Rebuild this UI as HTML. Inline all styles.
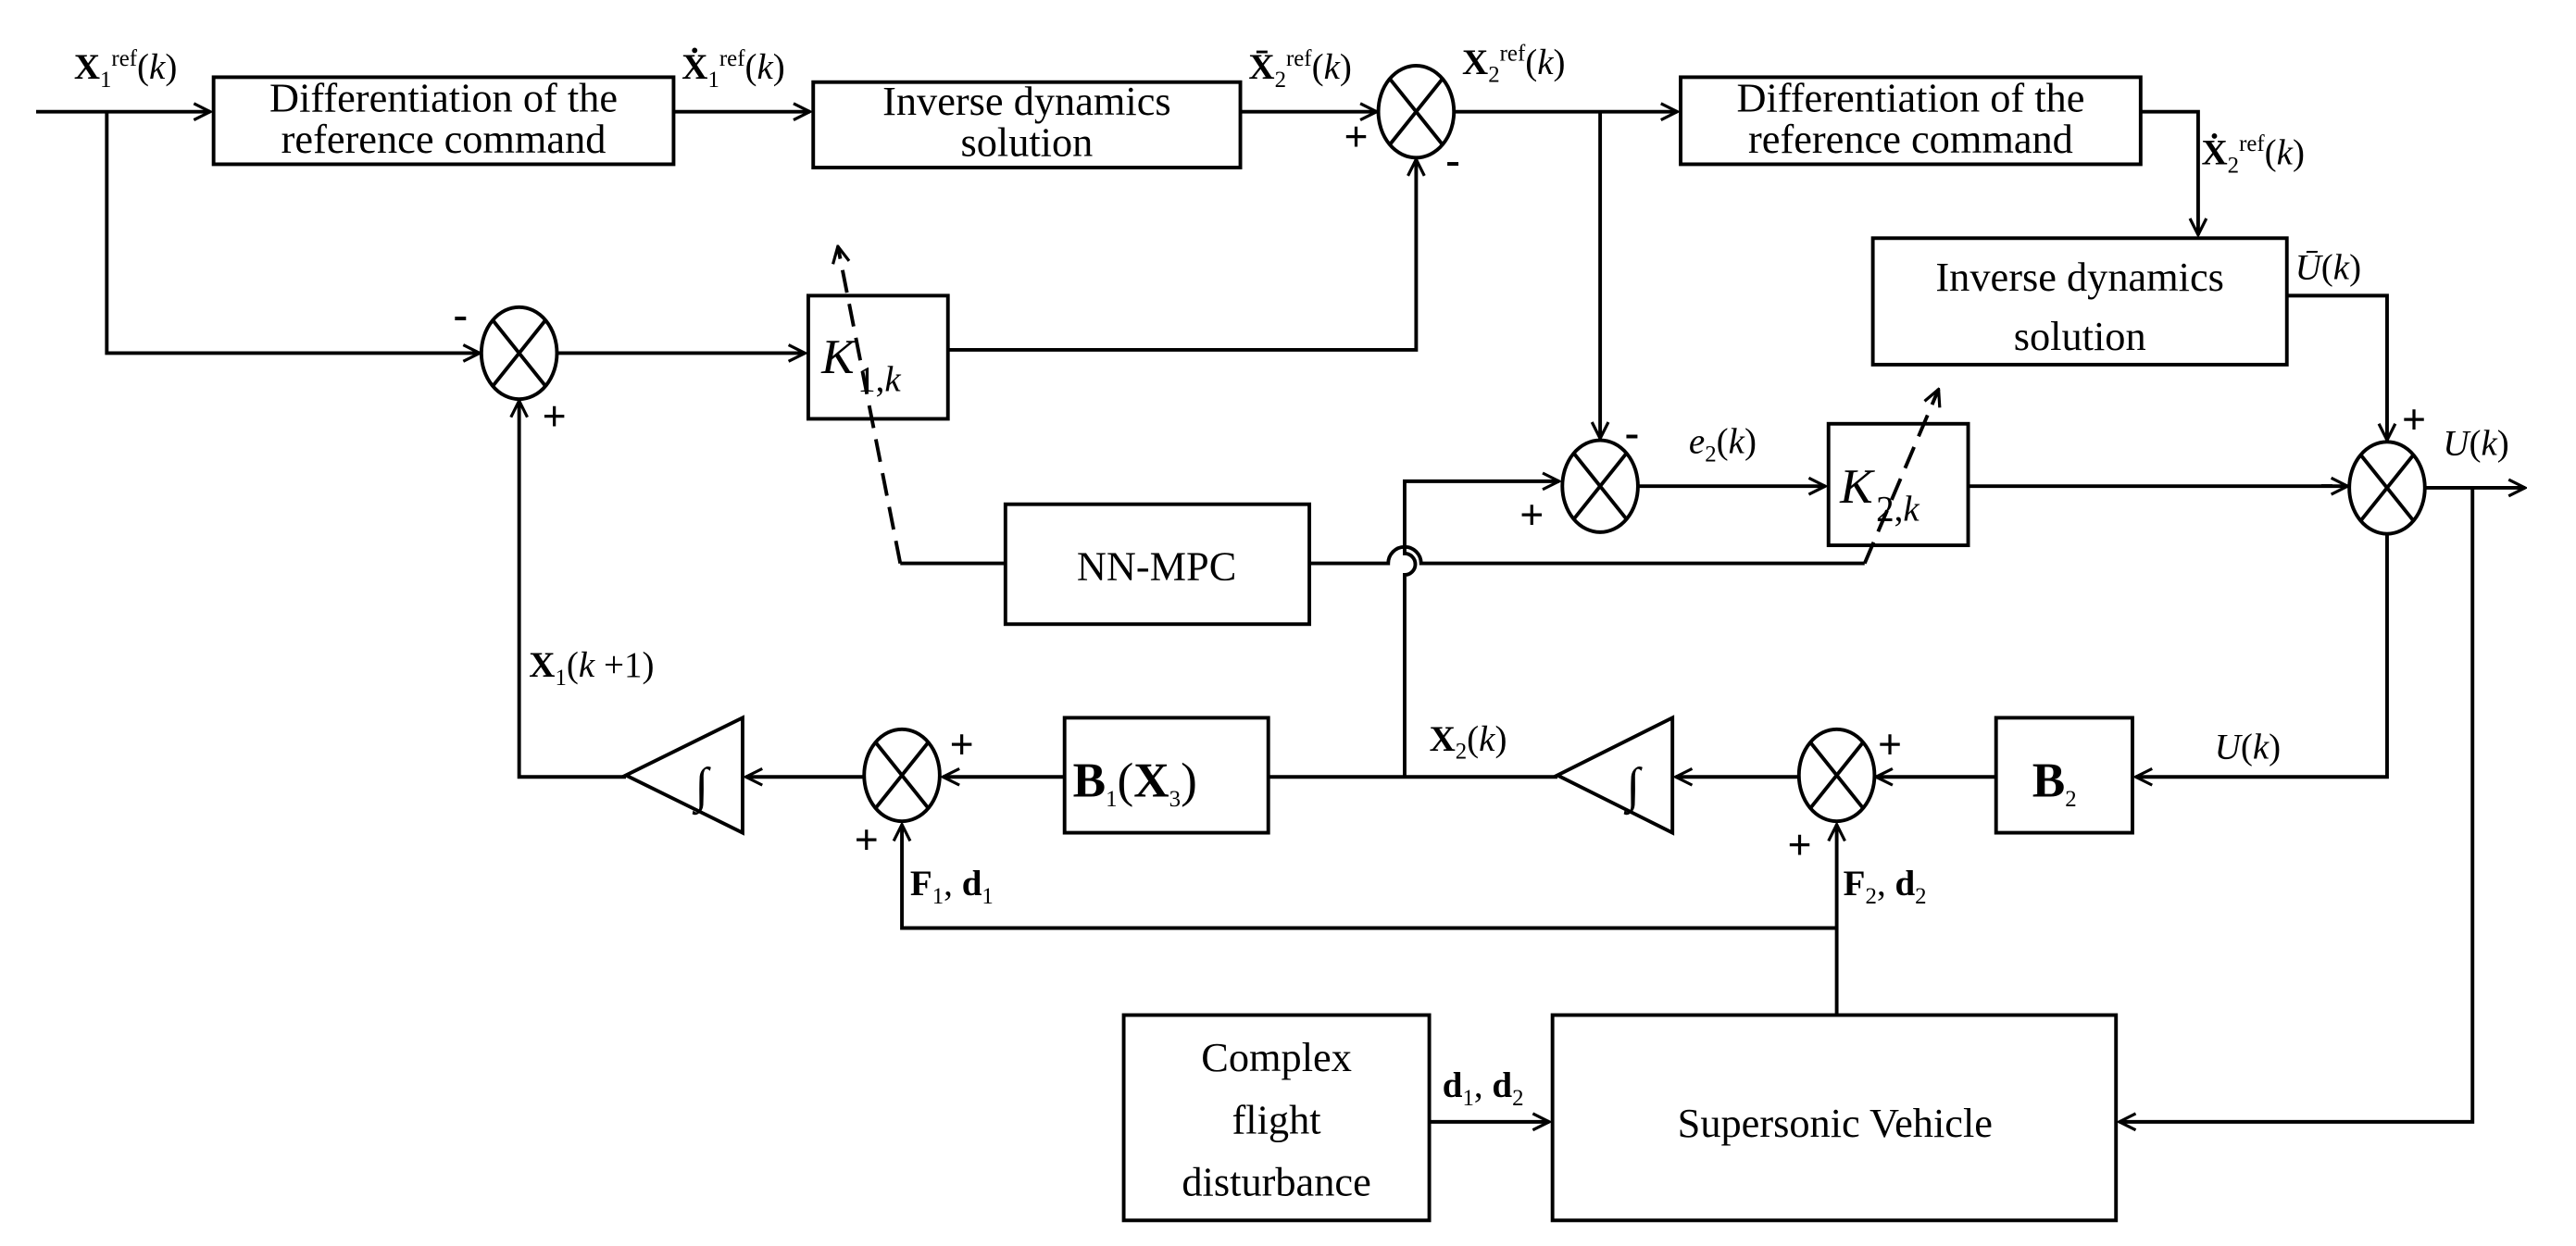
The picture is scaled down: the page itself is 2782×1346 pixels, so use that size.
<!DOCTYPE html>
<html><head><meta charset="utf-8"><style>
html,body{margin:0;padding:0;background:#fff;}
svg{display:block;}
text{font-family:"Liberation Serif",serif;fill:#000;}
.b{font-size:25px;}
.l{font-size:22px;}
.s{font-size:14px;}
</style></head><body>
<svg width="2782" height="1346" viewBox="0 0 1568 758.6" preserveAspectRatio="none" xmlns="http://www.w3.org/2000/svg">
<defs>
<marker id="a" viewBox="0 0 12 12" refX="11" refY="6" markerWidth="12" markerHeight="12" markerUnits="userSpaceOnUse" orient="auto">
<path d="M1,1 L11,6 L1,11" fill="none" stroke="#000" stroke-width="1.8"/>
</marker>
</defs>
<g fill="none" stroke="#000" stroke-width="2.2">
<rect x="130" y="47" width="280" height="53"/>
<rect x="495" y="50" width="260" height="52"/>
<rect x="1023" y="47" width="280" height="53"/>
<rect x="1140" y="145" width="252" height="77"/>
<rect x="492" y="180" width="85" height="75"/>
<rect x="1113" y="258" width="85" height="74"/>
<rect x="612" y="307" width="185" height="73"/>
<rect x="648" y="437" width="124" height="70"/>
<rect x="1215" y="437" width="83" height="70"/>
<rect x="684" y="618" width="186" height="125"/>
<rect x="945" y="618" width="343" height="125"/>
<path d="M452,437 L452,507 L381,472 Z"/>
<path d="M1018,437 L1018,507 L948,472 Z"/>
<g>
<ellipse cx="862" cy="68" rx="23" ry="28"/><path d="M846,48 L878,88 M878,48 L846,88"/>
<ellipse cx="316" cy="215" rx="23" ry="28"/><path d="M300,195 L332,235 M332,195 L300,235"/>
<ellipse cx="974" cy="296" rx="23" ry="28"/><path d="M958,276 L990,316 M990,276 L958,316"/>
<ellipse cx="1453" cy="297" rx="23" ry="28"/><path d="M1437,277 L1469,317 M1469,277 L1437,317"/>
<ellipse cx="549" cy="472" rx="23" ry="28"/><path d="M533,452 L565,492 M565,452 L533,492"/>
<ellipse cx="1118" cy="472" rx="23" ry="28"/><path d="M1102,452 L1134,492 M1134,452 L1102,492"/>
</g>
<path d="M22,68 L128,68" marker-end="url(#a)"/>
<path d="M410,68 L493,68" marker-end="url(#a)"/>
<path d="M755,68 L838,68" marker-end="url(#a)"/>
<path d="M885,68 L1021,68" marker-end="url(#a)"/>
<path d="M1303,68 L1338,68 L1338,143" marker-end="url(#a)"/>
<path d="M1392,180 L1453,180 L1453,268" marker-end="url(#a)"/>
<path d="M1476,297 L1537,297" marker-end="url(#a)"/>
<path d="M1505,297 L1505,683 L1290,683" marker-end="url(#a)"/>
<path d="M870,683 L943,683" marker-end="url(#a)"/>
<path d="M974,68 L974,267" marker-end="url(#a)"/>
<path d="M65,68 L65,215 L292,215" marker-end="url(#a)"/>
<path d="M339,215 L490,215" marker-end="url(#a)"/>
<path d="M577,213 L862,213 L862,97" marker-end="url(#a)"/>
<path d="M997,296 L1111,296" marker-end="url(#a)"/>
<path d="M1198,296 L1429,296" marker-end="url(#a)"/>
<path d="M1453,325 L1453,473 L1300,473" marker-end="url(#a)"/>
<path d="M1215,473 L1142,473" marker-end="url(#a)"/>
<path d="M1095,473 L1020,473" marker-end="url(#a)"/>
<path d="M948,473 L772,473"/>
<path d="M648,473 L574,473" marker-end="url(#a)"/>
<path d="M526,473 L454,473" marker-end="url(#a)"/>
<path d="M381,473 L316,473 L316,244" marker-end="url(#a)"/>
<path d="M855,473 L855,350 A6,6 0 0 0 855,337 L855,293 L949,293" marker-end="url(#a)"/>
<path d="M1118,618 L1118,502" marker-end="url(#a)"/>
<path d="M1118,565 L549,565 L549,502" marker-end="url(#a)"/>
<path d="M612,343 L548,343"/>
<path d="M797,343 L845,343 A10,10 0 0 1 865,343 L1135,343"/>
<path d="M548,343 L510,150" stroke-dasharray="14,7" marker-end="url(#a)"/>
<path d="M1135,343 L1180,237" stroke-dasharray="14,7" marker-end="url(#a)"/>
</g>
<g class="b" text-anchor="middle">
<text x="270" y="68">Differentiation of the</text>
<text x="270" y="93">reference command</text>
<text x="625" y="70">Inverse dynamics</text>
<text x="625" y="95">solution</text>
<text x="1163" y="68">Differentiation of the</text>
<text x="1163" y="93">reference command</text>
<text x="1266" y="177">Inverse dynamics</text>
<text x="1266" y="213">solution</text>
<text x="704" y="353">NN-MPC</text>
<text x="777" y="652">Complex</text>
<text x="777" y="690">flight</text>
<text x="777" y="728">disturbance</text>
<text x="1117" y="692">Supersonic Vehicle</text>
</g>
<text x="500" y="227" style="font-size:30px;font-style:italic">K</text>
<text x="522" y="238" class="l"><tspan>1,</tspan><tspan font-style="italic">k</tspan></text>
<text x="1120" y="306" style="font-size:30px;font-style:italic">K</text>
<text x="1142" y="317" class="l"><tspan>2,</tspan><tspan font-style="italic">k</tspan></text>
<text x="653" y="485" style="font-size:30px;font-weight:bold">B<tspan class="s" font-weight="normal" dy="6">1</tspan><tspan dy="-6" font-weight="normal">(</tspan>X<tspan class="s" font-weight="normal" dy="6">3</tspan><tspan dy="-6" font-weight="normal">)</tspan></text>
<text x="1237" y="485" style="font-size:30px;font-weight:bold">B<tspan class="s" font-weight="normal" dy="6">2</tspan></text>
<text x="423" y="488" style="font-size:30px;font-style:italic">∫</text>
<text x="990" y="488" style="font-size:30px;font-style:italic">∫</text>
<g class="l">
<text x="45" y="48"><tspan font-weight="bold">X</tspan><tspan class="s" dy="5">1</tspan><tspan class="s" dy="-13">ref</tspan><tspan dy="8">(</tspan><tspan font-style="italic">k</tspan>)</text>
<text x="415" y="48"><tspan font-weight="bold">Ẋ</tspan><tspan class="s" dy="5">1</tspan><tspan class="s" dy="-13">ref</tspan><tspan dy="8">(</tspan><tspan font-style="italic">k</tspan>)</text>
<text x="760" y="48"><tspan font-weight="bold">X̄</tspan><tspan class="s" dy="5">2</tspan><tspan class="s" dy="-13">ref</tspan><tspan dy="8">(</tspan><tspan font-style="italic">k</tspan>)</text>
<text x="890" y="45"><tspan font-weight="bold">X</tspan><tspan class="s" dy="5">2</tspan><tspan class="s" dy="-13">ref</tspan><tspan dy="8">(</tspan><tspan font-style="italic">k</tspan>)</text>
<text x="1340" y="100"><tspan font-weight="bold">Ẋ</tspan><tspan class="s" dy="5">2</tspan><tspan class="s" dy="-13">ref</tspan><tspan dy="8">(</tspan><tspan font-style="italic">k</tspan>)</text>
<text x="1397" y="170"><tspan font-style="italic">Ū</tspan>(<tspan font-style="italic">k</tspan>)</text>
<text x="1487" y="277"><tspan font-style="italic">U</tspan>(<tspan font-style="italic">k</tspan>)</text>
<text x="1028" y="276"><tspan font-style="italic">e</tspan><tspan class="s" dy="5">2</tspan><tspan dy="-5">(</tspan><tspan font-style="italic">k</tspan>)</text>
<text x="1348" y="462"><tspan font-style="italic">U</tspan>(<tspan font-style="italic">k</tspan>)</text>
<text x="870" y="457"><tspan font-weight="bold">X</tspan><tspan class="s" dy="5">2</tspan><tspan dy="-5">(</tspan><tspan font-style="italic">k</tspan>)</text>
<text x="322" y="412"><tspan font-weight="bold">X</tspan><tspan class="s" dy="5">1</tspan><tspan dy="-5">(</tspan><tspan font-style="italic">k</tspan> +1)</text>
<text x="554" y="545"><tspan font-weight="bold">F</tspan><tspan class="s" dy="5">1</tspan><tspan dy="-5">, </tspan><tspan font-weight="bold">d</tspan><tspan class="s" dy="5">1</tspan></text>
<text x="1122" y="545"><tspan font-weight="bold">F</tspan><tspan class="s" dy="5">2</tspan><tspan dy="-5">, </tspan><tspan font-weight="bold">d</tspan><tspan class="s" dy="5">2</tspan></text>
<text x="878" y="668"><tspan font-weight="bold">d</tspan><tspan class="s" dy="5">1</tspan><tspan dy="-5">, </tspan><tspan font-weight="bold">d</tspan><tspan class="s" dy="5">2</tspan></text>
</g>
<g style="font-size:26px;font-weight:bold">
<text x="818" y="92">+</text><text x="880" y="106">-</text>
<text x="276" y="200">-</text><text x="330" y="262">+</text>
<text x="989" y="272">-</text><text x="925" y="322">+</text>
<text x="1462" y="264">+</text><text x="1412" y="302">-</text>
<text x="578" y="462">+</text><text x="520" y="520">+</text>
<text x="1143" y="462">+</text><text x="1088" y="523">+</text>
</g>
</svg>
</body></html>
